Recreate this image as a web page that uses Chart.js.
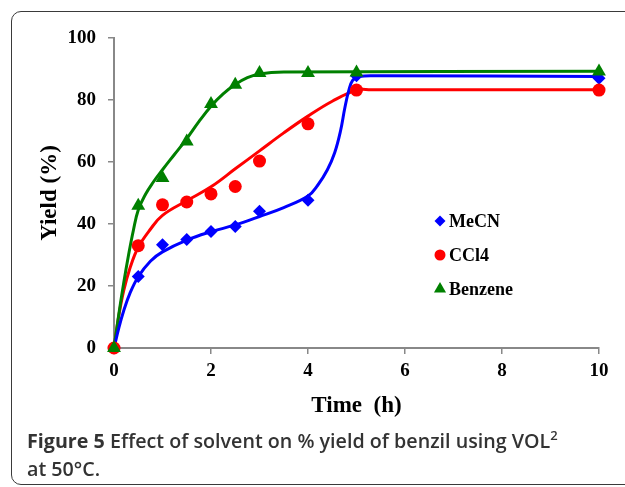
<!DOCTYPE html>
<html>
<head>
<meta charset="utf-8">
<script src="https://cdn.jsdelivr.net/npm/chart.js@4.4.0/dist/chart.umd.min.js"></script>
<style>
  body { margin: 0; background: #fff; width: 625px; height: 487px; overflow: hidden; position: relative; }
  #frame { position: absolute; left: 11px; top: 11px; width: 700px; height: 472px; border: 1.5px solid #3a3a3a; border-radius: 10px; }
  #wrap { position: absolute; left: 0; top: 0; width: 625px; height: 448px; }
  #caption { position: absolute; left: 27px; top: 427px; font-family: "Open Sans", sans-serif; font-size: 19.7px; font-weight: 600; color: #333; line-height: 28px; }
  #caption b { font-weight: 700; }
  #caption sup { font-size: 13px; line-height: 0; vertical-align: 8px; }
</style>
</head>
<body>
<div id="frame"></div>
<div id="wrap"><canvas id="chart-yield"></canvas></div>
<div id="caption"><b>Figure 5</b> Effect of solvent on % yield of benzil using VOL<sup>2</sup><br>at 50°C.</div>
<script>
// measured points
const hours = [0, 0.5, 1, 1.5, 2, 2.5, 3, 4, 5, 10];
const mecn = [0, 23.1, 33.3, 35.0, 37.6, 39.2, 44.1, 47.7, 87.8, 87.0];
const ccl4 = [0, 33.0, 46.2, 47.1, 49.7, 52.1, 60.3, 72.3, 83.2, 83.2];
const benzene = [0, 45.9, 54.8, 66.6, 78.7, 84.9, 88.7, 88.7, 88.9, 89.2];

// fitted trend curves
const mecnFitT = [0, 0.1, 0.2, 0.33, 0.5, 0.75, 1, 1.5, 2, 2.5, 3, 3.5, 4, 4.2, 4.4, 4.55, 4.67, 4.76, 4.84, 4.92, 5.05, 5.5, 10];
const mecnFit = [0, 6.5, 12, 17.7, 23, 28, 31, 34.8, 37.5, 39.7, 42.4, 45.3, 49, 52.5, 57.5, 63, 70, 77.5, 83, 86.3, 87.6, 87.8, 87.6];
const ccl4FitT = [0, 0.1, 0.2, 0.33, 0.5, 0.75, 1, 1.5, 2, 2.5, 3, 3.5, 4, 4.5, 5, 5.3, 6, 10];
const ccl4Fit = [0, 10.5, 18.5, 25.8, 32.5, 38.3, 42.8, 47.5, 52, 57.8, 63.6, 69.4, 74.8, 79.6, 83.2, 83.3, 83.3, 83.3];
const benzeneFitT = [0, 0.1, 0.2, 0.3, 0.4, 0.5, 0.65, 0.8, 1, 1.25, 1.5, 1.75, 2, 2.25, 2.5, 2.75, 3, 3.5, 10];
const benzeneFit = [0, 11, 21, 30, 38, 44.5, 49.6, 53.3, 57.5, 62.5, 67.5, 73, 78, 82, 85, 87.2, 88.4, 89, 89.3];

const xTicks = [0, 2, 4, 6, 8, 10];
const yTicks = [0, 20, 40, 60, 80, 100];

const serif = "'Liberation Serif', 'Times New Roman', serif";

function pairs(xs, ys) {
  return xs.map(function (x, i) { return { x: x, y: ys[i] }; });
}

const legendPlugin = {
  id: "insideLegend",
  afterDraw(chart) {
    const ctx = chart.ctx;
    const items = chart.data.datasets.filter(function (d) { return d.showInLegend; });
    items.forEach(function (d, i) {
      const y = 221 + i * 34;
      ctx.save();
      ctx.fillStyle = d.backgroundColor;
      ctx.strokeStyle = d.backgroundColor;
      Chart.helpers.drawPoint(ctx, { pointStyle: d.pointStyle, radius: d.legendRadius, rotation: 0, borderWidth: 0 }, 440, y);
      ctx.fillStyle = "#000";
      ctx.font = "bold 18px " + serif;
      ctx.textBaseline = "middle";
      ctx.fillText(d.label, 449, y + 1);
      ctx.restore();
    });
  }
};

const ctx = document.getElementById("chart-yield").getContext("2d");

new Chart(ctx, {
  type: "scatter",
  data: {
    datasets: [
      { label: "MeCN", data: pairs(hours, mecn), showInLegend: true, legendRadius: 5.5,
        pointStyle: "rectRot", pointRadius: 6.5, backgroundColor: "#0000ff", borderColor: "#0000ff", borderWidth: 0, order: 3 },
      { label: "CCl4", data: pairs(hours, ccl4), showInLegend: true, legendRadius: 5.5,
        pointStyle: "circle", pointRadius: 6.5, backgroundColor: "#ff0000", borderColor: "#ff0000", borderWidth: 0, order: 2 },
      { label: "Benzene", data: pairs(hours, benzene), showInLegend: true, legendRadius: 7,
        pointStyle: "triangle", pointRadius: 8, backgroundColor: "#008000", borderColor: "#008000", borderWidth: 0, order: 1 },
      { label: "MeCN fit", data: pairs(mecnFitT, mecnFit), showLine: true, pointRadius: 0,
        borderColor: "#0000ff", borderWidth: 3, tension: 0.4, order: 4 },
      { label: "CCl4 fit", data: pairs(ccl4FitT, ccl4Fit), showLine: true, pointRadius: 0,
        borderColor: "#ff0000", borderWidth: 3, tension: 0.4, order: 5 },
      { label: "Benzene fit", data: pairs(benzeneFitT, benzeneFit), showLine: true, pointRadius: 0,
        borderColor: "#008000", borderWidth: 3, tension: 0.4, order: 4 },
    ],
  },
  options: {
    responsive: true,
    maintainAspectRatio: false,
    animation: false,
    clip: false,
    layout: { padding: { left: 0, top: 38, right: 26, bottom: 0 } },
    plugins: { legend: { display: false }, tooltip: { enabled: false } },
    scales: {
      x: {
        type: "linear", min: 0, max: 10,
        afterFit: function (s) { s.height = 100; },
        afterBuildTicks: function (s) { s.ticks = xTicks.map(function (v) { return { value: v }; }); },
        grid: { drawOnChartArea: false, tickLength: 6, color: "#888", lineWidth: 1.5 },
        border: { color: "#888", width: 2 },
        ticks: { color: "#000", padding: 6, font: { family: serif, size: 19, weight: "bold" } },
        title: { display: true, text: "Time  (h)", color: "#000", padding: { top: 0, bottom: 28 },
          font: { family: serif, size: 23, weight: "bold" } },
      },
      y: {
        min: 0, max: 100,
        afterFit: function (s) { s.width = 114; },
        afterBuildTicks: function (s) { s.ticks = yTicks.map(function (v) { return { value: v }; }); },
        grid: { drawOnChartArea: false, tickLength: 6, color: "#888", lineWidth: 1.5 },
        border: { color: "#888", width: 2 },
        ticks: { color: "#000", padding: 12, font: { family: serif, size: 19, weight: "bold" } },
        title: { display: true, text: "Yield (%)", color: "#000", padding: { top: 36, bottom: 0 },
          font: { family: serif, size: 23, weight: "bold" } },
      },
    },
  },
  plugins: [legendPlugin],
});
</script>
</body>
</html>
